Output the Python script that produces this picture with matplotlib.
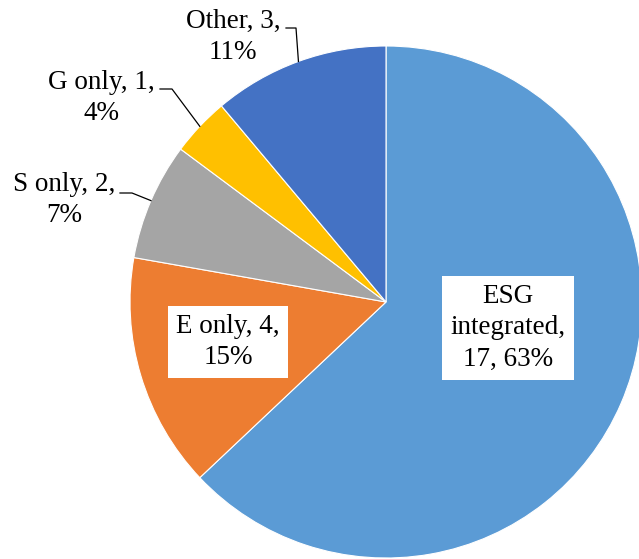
import numpy as np
import matplotlib
matplotlib.use('Agg')
import matplotlib.pyplot as plt

# ─── Data ────────────────────────────────────────────────────────────────────

categories = ['ESG integrated', 'E only', 'S only', 'G only', 'Other']
counts     = [17, 4, 2, 1, 3]
pcts       = ['63%', '15%', '7%', '4%', '11%']
colors     = ['#5B9BD5', '#ED7D31', '#A5A5A5', '#FFC000', '#4472C4']

label_text = {
    'ESG integrated': 'ESG\nintegrated,\n17, 63%',
    'E only':         'E only, 4,\n15%',
    'S only':         'S only, 2,\n7%',
    'G only':         'G only, 1,\n4%',
    'Other':          'Other, 3,\n11%',
}

# ─── Layout (pixel coords, origin bottom-left) ───────────────────────────────

W, H = 639, 559
CENTER = (386, H - 302)
RADIUS = 256

inside_pos = {'ESG integrated': (508, H - 328), 'E only': (228, H - 342)}
# outside labels: text centre, elbow start x, elbow end x, elbow y
outside_pos = {
    'Other':  ((233, H - 37), 286, 296, H - 28),
    'G only': ((101, H - 98), 160, 172, H - 89),
    'S only': ((64, H - 200), 120, 132, H - 193),
}

plt.rcParams['font.family'] = ['Liberation Serif', 'DejaVu Serif']

fig = plt.figure(figsize=(W / 100, H / 100), dpi=100)
ax = fig.add_axes([0, 0, 1, 1])

wedges, _ = ax.pie(counts, colors=colors, startangle=90, counterclock=False,
                   center=CENTER, radius=RADIUS,
                   wedgeprops=dict(edgecolor='white', linewidth=0.8))

# pie() resets the limits, so set them afterwards
ax.set_xlim(0, W)
ax.set_ylim(0, H)
ax.set_aspect('equal')
ax.axis('off')

FS = 19.5
LS = 1.35
for cat, w in zip(categories, wedges):
    txt = label_text[cat]
    if cat in inside_pos:
        x, y = inside_pos[cat]
        ax.text(x, y, txt, ha='center', va='center', fontsize=FS,
                linespacing=LS, color='black',
                bbox=dict(boxstyle='square,pad=0.3', fc='white', ec='none'))
    else:
        (tx, ty), x0, x1, ey = outside_pos[cat]
        ax.text(tx, ty, txt, ha='center', va='center', fontsize=FS,
                linespacing=LS, color='black')
        mid = np.deg2rad((w.theta1 + w.theta2) / 2)
        ax_x = CENTER[0] + RADIUS * np.cos(mid)
        ax_y = CENTER[1] + RADIUS * np.sin(mid)
        ax.plot([x0, x1, ax_x], [ey, ey, ax_y], color='black', lw=0.9)

fig.savefig('out.png', dpi=100)
